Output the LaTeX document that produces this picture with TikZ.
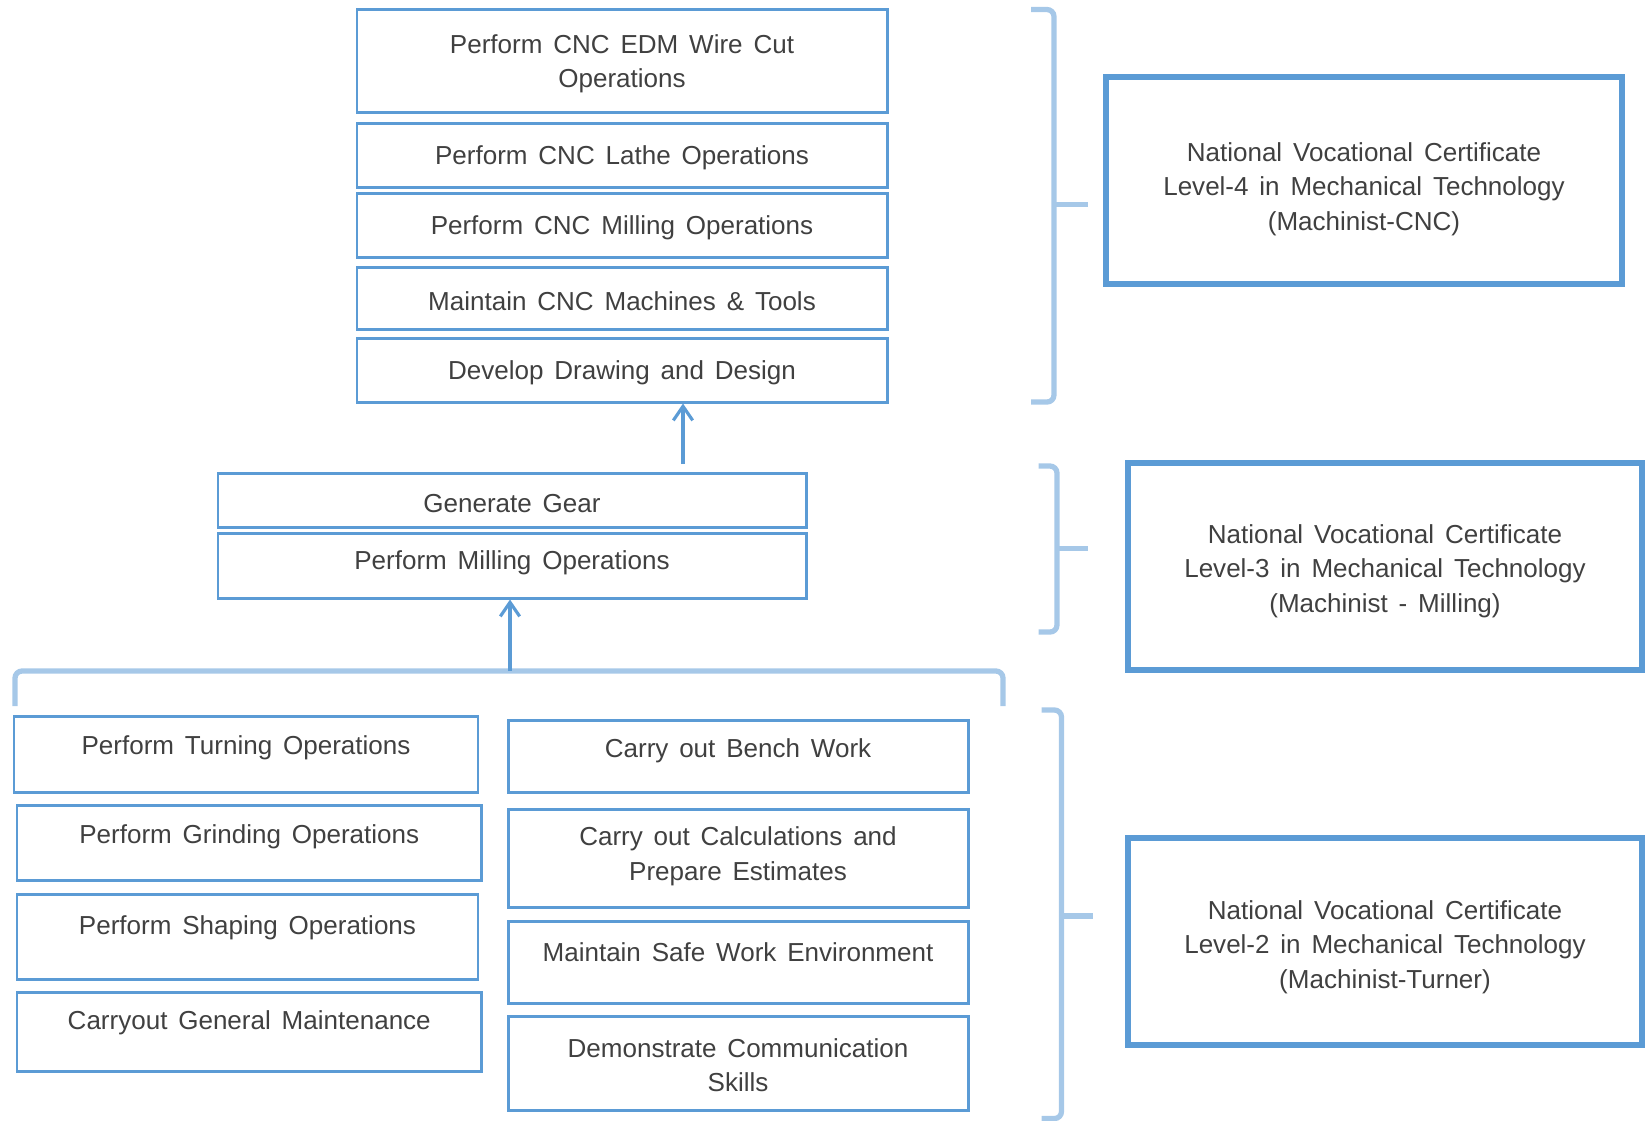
\documentclass[tikz,border=0pt]{standalone}
\usepackage{fontspec}
\setmainfont{Liberation Sans}[WordSpace={1.5}]
\usetikzlibrary{fit,arrows.meta,calc}
\definecolor{boxblue}{RGB}{91,155,213}
\definecolor{brkblue}{RGB}{166,200,232}
\definecolor{txtgray}{RGB}{64,64,64}
\tikzset{
  box/.style={draw=boxblue, line width=0.85pt, inner sep=0pt},
  cert/.style={draw=boxblue, line width=1.7pt, inner sep=0pt},
  txt/.style={text=txtgray, font=\fontsize{7.4}{9.85}\selectfont, align=center, inner sep=0pt, yshift=-0.9pt},
  brk/.style={draw=brkblue, line width=1.5pt, rounded corners=2pt},
  arr/.style={draw=boxblue, line width=0.9pt, -{Straight Barb[length=4pt,width=5.5pt]}},
}
\begin{document}
\begin{tikzpicture}[x=0.01cm, y=-0.01cm]
\useasboundingbox (0,0) rectangle (1645,1120);
% Level-4 units
\node[box, fit={(357,9.5)(887,112)}] (t1) {};
\node[txt] (t1t) at (t1.center) {Perform CNC EDM Wire Cut\\Operations};
\node[box, fit={(357,123)(887,187)}] (t2) {};
\node[txt] (t2t) at (t2.center) {Perform CNC Lathe Operations};
\node[box, fit={(357,193)(887,257)}] (t3) {};
\node[txt] (t3t) at (t3.center) {Perform CNC Milling Operations};
\node[box, fit={(357,267.5)(887,329.5)}] (t4) {};
\node[txt] (t4t) at (t4.center) {Maintain CNC Machines \& Tools};
\node[box, fit={(357,338)(887,402)}] (t5) {};
\node[txt] (t5t) at (t5.center) {Develop Drawing and Design};
% Level-3 units
\node[box, fit={(218,473)(806,527)}] (m1) {};
\node[txt] (m1t) at (m1.center) {Generate Gear};
\node[box, fit={(218,533)(806,598)}] (m2) {};
\node[txt] (m2t) at ($(m2.center |- 0,560)$) {Perform Milling Operations};
% Level-2 units, left column
\node[box, fit={(14,716.5)(478,792)}] (l1) {};
\node[txt] (l1t) at ($(l1.center |- 0,745)$) {Perform Turning Operations};
\node[box, fit={(17,805.5)(481.5,880)}] (l2) {};
\node[txt] (l2t) at ($(l2.center |- 0,834)$) {Perform Grinding Operations};
\node[box, fit={(17,894)(478,979)}] (l3) {};
\node[txt] (l3t) at ($(l3.center |- 0,925)$) {Perform Shaping Operations};
\node[box, fit={(17,992)(481.5,1071)}] (l4) {};
\node[txt] (l4t) at ($(l4.center |- 0,1020)$) {Carryout General Maintenance};
% Level-2 units, right column
\node[box, fit={(508,720.5)(968,792)}] (r1) {};
\node[txt] (r1t) at ($(r1.center |- 0,748)$) {Carry out Bench Work};
\node[box, fit={(508,809)(968,907)}] (r2) {};
\node[txt] (r2t) at ($(r2.center |- 0,853)$) {Carry out Calculations and\\Prepare Estimates};
\node[box, fit={(508,921)(968,1003)}] (r3) {};
\node[txt] (r3t) at ($(r3.center |- 0,949)$) {Maintain Safe Work Environment};
\node[box, fit={(508,1016.5)(968,1110)}] (r4) {};
\node[txt] (r4t) at ($(r4.center |- 0,1062)$) {Demonstrate Communication\\Skills};
% Certificates
\node[cert, fit={(1106,77)(1622,284)}] (c4) {};
\node[txt] (c4t) at ($(c4.center |- 0,186)$) {National Vocational Certificate\\Level-4 in Mechanical Technology\\(Machinist-CNC)};
\node[cert, fit={(1128,463)(1642,670)}] (c3) {};
\node[txt] (c3t) at ($(c3.center |- 0,568)$) {National Vocational Certificate\\Level-3 in Mechanical Technology\\(Machinist - Milling)};
\node[cert, fit={(1128,838)(1642,1045)}] (c2) {};
\node[txt] (c2t) at ($(c2.center |- 0,944)$) {National Vocational Certificate\\Level-2 in Mechanical Technology\\(Machinist-Turner)};
% Brackets
\draw[brk] (1031,9.5) -- (1054,9.5) -- (1054,402) -- (1031,402);
\draw[brk] (1054,204.5) -- (1088,204.5);
\draw[brk] (1038.5,466) -- (1057,466) -- (1057,632) -- (1038.5,632);
\draw[brk] (1057,548.6) -- (1088,548.6);
\draw[brk] (1041.5,710) -- (1061.5,710) -- (1061.5,1118.5) -- (1041.5,1118.5);
\draw[brk] (1061.5,916) -- (1093,916);
\coordinate (hbl) at (15,706);
\coordinate (hbr) at (1003,706);
\draw[brk] (hbl) -- (15,671) -- (1003,671) -- (hbr);
% Arrows
\coordinate (a2) at (510,671);
\draw[arr] (a2) -- (a2 |- m2.south);
\coordinate (a1) at (683,464);
\draw[arr] (a1) -- (a1 |- t5.south);
\end{tikzpicture}
\end{document}
